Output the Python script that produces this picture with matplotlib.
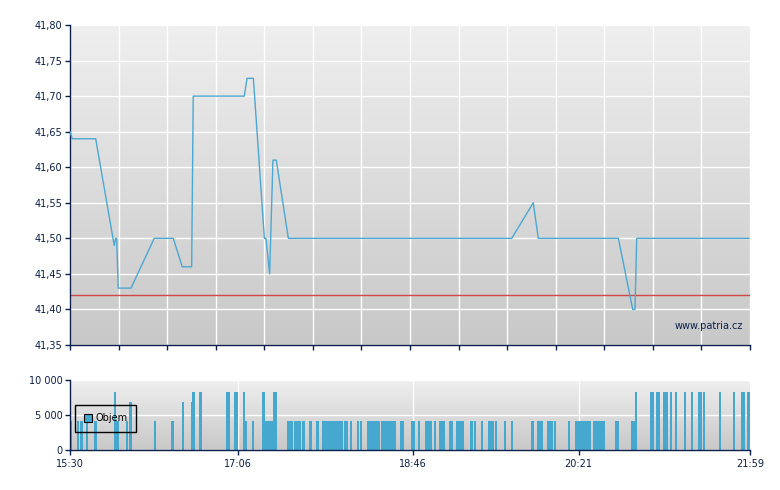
#!/usr/bin/env python3
import numpy as np
import matplotlib
matplotlib.use("Agg")
import matplotlib.pyplot as plt
from matplotlib.colors import LinearSegmentedColormap
from matplotlib.ticker import FuncFormatter, FixedLocator

# ------------------------- data -------------------------
# minutes after 15:30 and the traded price
price_minutes = [0, 1.3, 14.7, 25.3, 26.1, 26.7, 27.6, 34.9, 48.2, 59.1, 64.2, 69.6,
                 70.5, 99.7, 101.3, 104.9, 111.2, 112.1, 114.2, 116.1, 118.0, 124.9,
                 252.7, 265.0, 267.9, 313.7, 321.9, 323.2, 324.2, 388.4]
price_values = [41.65, 41.64, 41.64, 41.49, 41.50, 41.50, 41.43, 41.43, 41.50, 41.50,
                41.46, 41.46, 41.70, 41.70, 41.725, 41.725, 41.50, 41.50, 41.45, 41.61,
                41.61, 41.50, 41.50, 41.55, 41.50, 41.50, 41.40, 41.40, 41.50, 41.50]
ref_price = 41.42

# volume per minute (minute after 15:30, shares)
vol_minutes = [0, 4, 6, 9, 14, 25, 26, 27, 32, 34, 48, 58, 64, 69, 70, 74, 89, 90, 94, 95,
               99, 100, 104, 110, 111, 112, 113, 114, 115, 116, 117, 124, 125, 126,
               128, 129, 130, 131, 133, 137, 141,
               144, 145, 146, 147, 148, 149, 150, 151, 152, 153, 154, 155, 157, 158, 160,
               164, 166, 170, 171, 172, 173, 174, 175, 176,
               178, 179, 180, 181, 182, 183, 184, 185, 189, 190, 195, 196, 199,
               203, 204, 205, 206, 208, 211, 212, 213, 217, 218, 221, 222, 223, 224,
               229, 231, 235, 239, 240, 241, 243, 248, 252, 264, 267, 268, 269,
               273, 274, 275, 277, 285, 289, 290, 291, 292, 293, 294, 295, 296, 297,
               299, 300, 301, 302, 303, 304, 305, 312, 313, 321, 322, 323,
               332, 333, 335, 336, 339, 340, 341, 343, 346, 351, 355, 359, 360, 362,
               371, 379, 384, 385, 387, 388]
vol_values = [4200, 4200, 4200, 4200, 4200, 8300, 4200, 4200, 4200, 6800, 4200, 4200,
              6800, 6800, 8300, 8300, 8300, 8300, 8300, 8300,
              8300, 4200, 4200, 8300, 4200, 4200, 4200, 4200, 4200, 8300, 8300, 4200, 4200, 4200,
              4200, 4200, 4200, 4200, 4200, 4200, 4200,
              4200, 4200, 4200, 4200, 4200, 4200, 4200, 4200, 4200, 4200, 4200, 4200, 4200, 4200, 4200,
              4200, 4200, 4200, 4200, 4200, 4200, 4200, 4200, 4200,
              4200, 4200, 4200, 4200, 4200, 4200, 4200, 4200, 4200, 4200, 4200, 4200, 4200,
              4200, 4200, 4200, 4200, 4200, 4200, 4200, 4200, 4200, 4200, 4200, 4200, 4200, 4200,
              4200, 4200, 4200, 4200, 4200, 4200, 4200, 4200, 4200, 4200, 4200, 4200, 4200,
              4200, 4200, 4200, 4200, 4200, 4200, 4200, 4200, 4200, 4200, 4200, 4200, 4200, 4200,
              4200, 4200, 4200, 4200, 4200, 4200, 4200, 4200, 4200, 4200, 4200, 8300,
              8300, 8300, 8300, 8300, 8300, 8300, 8300, 8300, 8300, 8300, 8300, 8300, 8300, 8300,
              8300, 8300, 8300, 8300, 8300, 8300]

session_len = 389  # 15:30 -> 21:59
vol_tick_minutes = [0, 96, 196, 291, 389]
vol_tick_labels = ["15:30", "17:06", "18:46", "20:21", "21:59"]

# ------------------------- styling -------------------------
NAVY = "#0b1f4b"
LINE_BLUE = "#4aa8d2"
BAR_BLUE = "#46a7cf"
RED = "#d04848"
bg_cmap = LinearSegmentedColormap.from_list("bg", ["#c8c8c8", "#efefef"])

plt.rcParams["font.family"] = "DejaVu Sans"
plt.rcParams["font.size"] = 7


def paint_background(ax):
    grad = np.linspace(0, 1, 256).reshape(-1, 1)
    ax.imshow(grad, extent=(0, 1, 0, 1), transform=ax.transAxes, aspect="auto",
              cmap=bg_cmap, origin="lower", zorder=0)


def style_axes(ax):
    for side in ("top", "right"):
        ax.spines[side].set_visible(False)
    for side in ("left", "bottom"):
        ax.spines[side].set_color(NAVY)
        ax.spines[side].set_linewidth(1.0)
    ax.tick_params(colors=NAVY, labelcolor=NAVY, length=3.5, width=1.0, labelsize=7)
    ax.tick_params(axis="y", pad=2)
    ax.tick_params(axis="x", pad=3)


fig = plt.figure(figsize=(7.8, 4.9), dpi=100)

# ------------------------- price panel -------------------------
ax = fig.add_axes([70 / 780, 145 / 490, 680 / 780, 320 / 490])
paint_background(ax)
style_axes(ax)
ax.set_xlim(0, session_len)
ax.set_ylim(41.35, 41.80)
ax.yaxis.set_major_locator(FixedLocator(np.arange(41.35, 41.801, 0.05)))
ax.yaxis.set_major_formatter(FuncFormatter(lambda v, p: f"{v:.2f}".replace(".", ",")))
ax.xaxis.set_major_locator(FixedLocator(np.linspace(0, session_len, 15)))
ax.set_xticklabels([])
ax.grid(True, color="white", linewidth=1.0, zorder=1)
ax.set_axisbelow(True)

ax.axhline(ref_price, color=RED, linewidth=1.0, zorder=2)
ax.plot(price_minutes, price_values, color=LINE_BLUE, linewidth=1.0, zorder=3)
ax.text(0.99, 0.06, "www.patria.cz", transform=ax.transAxes, ha="right", va="center",
        color=NAVY, fontsize=7)

# ------------------------- volume panel -------------------------
axv = fig.add_axes([70 / 780, 40 / 490, 680 / 780, 70 / 490])
paint_background(axv)
style_axes(axv)
axv.set_xlim(0, session_len)
axv.set_ylim(0, 10000)
axv.yaxis.set_major_locator(FixedLocator([0, 5000, 10000]))
axv.yaxis.set_major_formatter(FuncFormatter(lambda v, p: f"{int(v):,}".replace(",", " ")))
axv.xaxis.set_major_locator(FixedLocator(vol_tick_minutes))
axv.set_xticklabels(vol_tick_labels)
axv.grid(True, axis="y", color="white", linewidth=1.0, zorder=1)
for m in vol_tick_minutes[1:-1]:
    axv.axvline(m, color="white", linewidth=1.0, zorder=1)
axv.set_axisbelow(True)

axv.bar(vol_minutes, vol_values, width=1.3, align="edge", color=BAR_BLUE,
        linewidth=0, antialiased=False, zorder=2, label="Objem")
leg = axv.legend(loc="upper left", bbox_to_anchor=(0.0078, 0.64), frameon=True,
                 fancybox=False, facecolor="none", edgecolor="black", fontsize=7,
                 handlelength=0.82, handleheight=0.82, handletextpad=0.45,
                 borderpad=0.85, borderaxespad=0)
leg.get_frame().set_linewidth(1.0)
leg.get_frame().set_alpha(None)
leg.set_zorder(5)
for h in leg.legend_handles:
    h.set_edgecolor("black")
    h.set_linewidth(0.8)

fig.savefig("out.png", dpi=100)
